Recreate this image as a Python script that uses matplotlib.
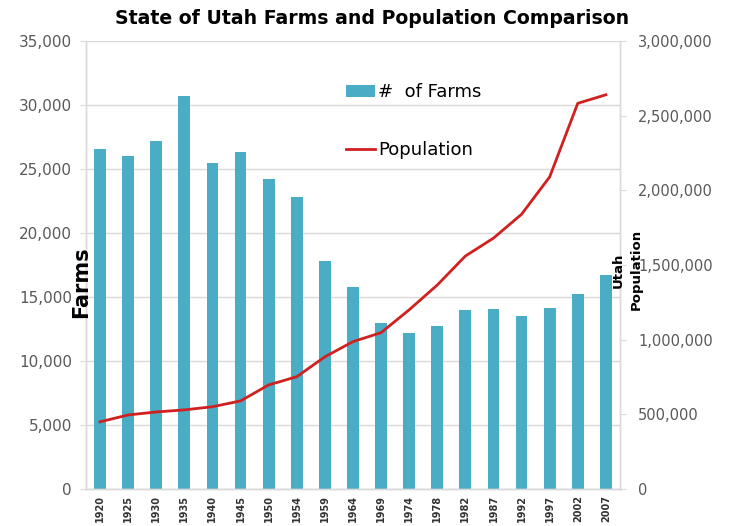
import numpy as np
import matplotlib.pyplot as plt
from matplotlib.ticker import FuncFormatter

# ── 데이터 ─────────────────────────────────────
years = ["1920", "1925", "1930", "1935", "1940", "1945", "1950", "1954", "1959", "1964",
         "1969", "1974", "1978", "1982", "1987", "1992", "1997", "2002", "2007"]
farms = [26600, 26000, 27200, 30700, 25500, 26350, 24200, 22800, 17800, 15750,
         13000, 12200, 12700, 13950, 14050, 13500, 14150, 15250, 16700]
population = [450000, 496000, 516000, 530000, 551000, 590000, 697000, 752000, 885000, 987000,
              1047000, 1200000, 1366000, 1560000, 1680000, 1840000, 2090000, 2583000, 2640000]

BAR_COLOR = "#4BACC6"
LINE_COLOR = "#D02020"
GRID_COLOR = "#D9D9D9"
TICK_COLOR = "#595959"

plt.rcParams["font.family"] = ["DejaVu Sans"]

fig = plt.figure(figsize=(7.38, 5.26), dpi=100)
ax = fig.add_axes([0.1165, 0.0703, 0.7235, 0.8517])
ax2 = ax.twinx()

x = np.arange(len(years))
bars = ax.bar(x, farms, width=0.42, color=BAR_COLOR, label="#  of Farms", zorder=2)
line, = ax2.plot(x, population, color=LINE_COLOR, linewidth=2.0, label="Population")

ax.set_xlim(-0.5, len(years) - 0.5)
ax.set_ylim(0, 35000)
ax.set_yticks(np.arange(0, 35001, 5000))
ax2.set_ylim(0, 3000000)
ax2.set_yticks(np.arange(0, 3000001, 500000))

fmt = FuncFormatter(lambda v, p: f"{int(v):,}")
ax.yaxis.set_major_formatter(fmt)
ax2.yaxis.set_major_formatter(fmt)

ax.grid(axis="y", color=GRID_COLOR, linewidth=1.0, zorder=0)
ax.set_axisbelow(True)

ax.set_xticks(x)
ax.set_xticklabels(years, rotation=90, fontsize=7, fontweight="bold", color="#333333")
ax.tick_params(axis="x", length=0, pad=4)
ax.tick_params(axis="y", labelsize=11, colors=TICK_COLOR, length=4, color=GRID_COLOR, pad=6)
ax2.tick_params(axis="y", labelsize=10.5, colors=TICK_COLOR, length=4, color=GRID_COLOR, pad=9)

for a in (ax, ax2):
    a.spines["top"].set_visible(False)
    for side in ("left", "right", "bottom"):
        a.spines[side].set_color(GRID_COLOR)
        a.spines[side].set_linewidth(1.0)

ax.set_title("State of Utah Farms and Population Comparison",
             fontsize=13.6, fontweight="bold", pad=12, x=0.535)

fig.text(0.110, 0.464, "Farms", rotation=90, fontsize=15, fontweight="bold",
         ha="center", va="center")
fig.text(0.850, 0.487, "Utah\nPopulation", rotation=90, fontsize=9.5, fontweight="bold",
         ha="center", va="center", linespacing=1.45)

ax2.legend([bars, line], ["#  of Farms", "Population"], loc="upper left",
           bbox_to_anchor=(0.457, 0.942), frameon=False, fontsize=13,
           labelspacing=2.2, handlelength=1.6, handletextpad=0.15)

plt.savefig("out.png", dpi=100)
